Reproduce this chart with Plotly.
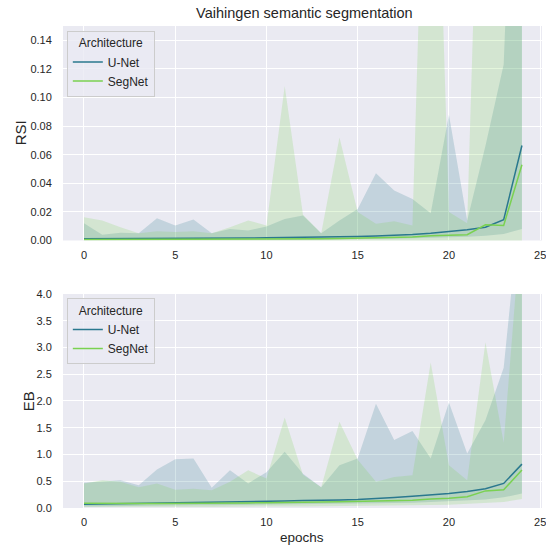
import plotly.graph_objects as go

epochs = list(range(25))

# RSI (top panel)
rsi_unet_mean = [0.0012, 0.0012, 0.0012, 0.0013, 0.0013, 0.0014, 0.0014, 0.0015, 0.0016, 0.0017,
                 0.0019, 0.0020, 0.0021, 0.0022, 0.0025, 0.0028, 0.0032, 0.0036, 0.0042, 0.0050,
                 0.0060, 0.0075, 0.0093, 0.0145, 0.0664]
rsi_unet_low = [0.0003, 0.0003, 0.0003, 0.0004, 0.0004, 0.0004, 0.0004, 0.0005, 0.0005, 0.0005,
                0.0006, 0.0006, 0.0007, 0.0007, 0.0008, 0.0009, 0.0011, 0.0013, 0.0015, 0.0018,
                0.0022, 0.0027, 0.0033, 0.0045, 0.0080]
rsi_unet_high = [0.0120, 0.0040, 0.0055, 0.0050, 0.0156, 0.0105, 0.0147, 0.0050, 0.0080, 0.0070,
                 0.0098, 0.0150, 0.0175, 0.0050, 0.0140, 0.0220, 0.0470, 0.0350, 0.0290, 0.0190,
                 0.0880, 0.0140, 0.0660, 0.1230, 0.4500]
rsi_segnet_mean = [0.0007, 0.0007, 0.0007, 0.0007, 0.0008, 0.0008, 0.0008, 0.0008, 0.0009, 0.0009,
                   0.0010, 0.0011, 0.0012, 0.0012, 0.0014, 0.0016, 0.0019, 0.0022, 0.0025, 0.0033,
                   0.0037, 0.0040, 0.0110, 0.0105, 0.0530]
rsi_segnet_low = [-0.0010, -0.0008, -0.0006, -0.0005, -0.0005, -0.0005, -0.0005, -0.0005, -0.0005, -0.0005,
                  -0.0005, -0.0005, -0.0005, -0.0005, -0.0005, -0.0005, -0.0005, -0.0005, -0.0005, -0.0005,
                  -0.0005, -0.0005, -0.0005, -0.0005, -0.0005]
rsi_segnet_high = [0.0163, 0.0140, 0.0093, 0.0051, 0.0065, 0.0060, 0.0065, 0.0050, 0.0093, 0.0140,
                   0.0105, 0.1080, 0.0180, 0.0050, 0.0720, 0.0200, 0.0117, 0.0135, 0.0105, 0.4400,
                   0.0200, 0.0120, 0.4400, 0.3000, 0.5000]

# EB (bottom panel)
eb_unet_mean = [0.07, 0.075, 0.08, 0.085, 0.09, 0.095, 0.10, 0.10, 0.11, 0.115,
                0.12, 0.13, 0.14, 0.14, 0.15, 0.16, 0.175, 0.195, 0.22, 0.245,
                0.27, 0.31, 0.36, 0.46, 0.82]
eb_unet_low = [0.03, 0.035, 0.04, 0.04, 0.045, 0.045, 0.05, 0.05, 0.055, 0.06,
               0.06, 0.065, 0.07, 0.07, 0.075, 0.08, 0.085, 0.095, 0.10, 0.11,
               0.12, 0.14, 0.16, 0.20, 0.27]
eb_unet_high = [0.47, 0.50, 0.52, 0.425, 0.72, 0.91, 0.925, 0.38, 0.705, 0.46,
                0.67, 1.05, 0.64, 0.39, 0.80, 0.925, 1.95, 1.27, 1.44, 0.925,
                1.97, 1.02, 1.64, 2.62, 6.0]
eb_segnet_mean = [0.09, 0.085, 0.085, 0.085, 0.085, 0.085, 0.085, 0.09, 0.09, 0.095,
                  0.10, 0.10, 0.105, 0.11, 0.115, 0.12, 0.125, 0.135, 0.145, 0.17,
                  0.18, 0.21, 0.32, 0.34, 0.71]
eb_segnet_low = [0.02, 0.02, 0.02, 0.02, 0.02, 0.02, 0.02, 0.02, 0.025, 0.025,
                 0.025, 0.03, 0.03, 0.03, 0.035, 0.035, 0.04, 0.045, 0.05, 0.055,
                 0.06, 0.07, 0.09, 0.11, 0.17]
eb_segnet_high = [0.46, 0.52, 0.49, 0.39, 0.46, 0.34, 0.36, 0.33, 0.49, 0.705,
                  0.55, 1.69, 0.62, 0.39, 1.61, 0.90, 0.49, 0.58, 0.61, 2.72,
                  0.80, 0.52, 3.10, 1.22, 5.5]

x_ticks = [0, 5, 10, 15, 20, 25]
rsi_ticks = [0, 0.02, 0.04, 0.06, 0.08, 0.10, 0.12, 0.14]
eb_ticks = [0, 0.5, 1, 1.5, 2, 2.5, 3, 3.5, 4]

UNET_C = "#2a788e"
SEGNET_C = "#7ad151"
UNET_F = "rgba(42,120,142,0.2)"
SEGNET_F = "rgba(122,209,81,0.2)"
FONT = "Liberation Sans, Arial, sans-serif"
TXT = "#262626"

fig = go.Figure()


def add_panel(xa, ya, legend, series):
    for name, mean, low, high, lc, fc in series:
        fig.add_trace(go.Scatter(
            x=epochs + epochs[::-1], y=high + low[::-1], fill="toself",
            fillcolor=fc, line=dict(width=0), mode="lines", hoverinfo="skip",
            showlegend=False, xaxis=xa, yaxis=ya))
    for name, mean, low, high, lc, fc in series:
        fig.add_trace(go.Scatter(
            x=epochs, y=mean, mode="lines", name=name,
            line=dict(color=lc, width=1.5), xaxis=xa, yaxis=ya, legend=legend))


add_panel("x", "y", "legend", [
    ("U-Net", rsi_unet_mean, rsi_unet_low, rsi_unet_high, UNET_C, UNET_F),
    ("SegNet", rsi_segnet_mean, rsi_segnet_low, rsi_segnet_high, SEGNET_C, SEGNET_F),
])
add_panel("x2", "y2", "legend2", [
    ("U-Net", eb_unet_mean, eb_unet_low, eb_unet_high, UNET_C, UNET_F),
    ("SegNet", eb_segnet_mean, eb_segnet_low, eb_segnet_high, SEGNET_C, SEGNET_F),
])

axis_common = dict(showgrid=True, gridcolor="white", gridwidth=1.2, zeroline=False,
                   showline=False, ticks="outside", tickcolor="rgba(0,0,0,0)",
                   ticklabeloverflow="allow",
                   tickfont=dict(family=FONT, size=11, color=TXT))

legend_common = dict(
    bgcolor="rgba(234,234,242,0.8)", bordercolor="#cccccc", borderwidth=1,
    font=dict(family=FONT, size=12, color=TXT), xanchor="left", yanchor="top",
    itemwidth=30, title=dict(text="Architecture", side="top center",
                             font=dict(family=FONT, size=12, color=TXT)))

fig.update_layout(
    width=546, height=545,
    margin=dict(l=63, r=0, t=26, b=37),
    paper_bgcolor="white", plot_bgcolor="#EAEAF2",
    title=dict(text="Vaihingen semantic segmentation", x=0.5575, xanchor="center",
               y=1 - 13 / 545, yanchor="middle", yref="container",
               font=dict(family=FONT, size=14.5, color=TXT)),
    xaxis=dict(domain=[0, 1], range=[-1.15, 25.1], tickvals=x_ticks, ticklen=4,
               anchor="y", **axis_common),
    yaxis=dict(domain=[0.555, 1], range=[0, 0.15], tickvals=rsi_ticks, ticklen=8,
               tickformat=".2f", anchor="x", **axis_common),
    xaxis2=dict(domain=[0, 1], range=[-1.15, 25.1], tickvals=x_ticks, ticklen=4,
                anchor="y2", **axis_common),
    yaxis2=dict(domain=[0, 0.444], range=[0, 4], tickvals=eb_ticks, ticklen=8,
                tickformat=".1f", anchor="x2", **axis_common),
    legend=dict(x=0.008, y=0.99, **legend_common),
    legend2=dict(x=0.008, y=0.435, **legend_common),
    annotations=[
        dict(text="RSI", xref="paper", yref="paper", x=(20 - 63) / 483, y=(508 - 133) / 482,
             xanchor="center", yanchor="middle",
             showarrow=False, textangle=-90, font=dict(family=FONT, size=15, color=TXT)),
        dict(text="EB", xref="paper", yref="paper", x=(28 - 63) / 483, y=(508 - 401) / 482,
             xanchor="center", yanchor="middle",
             showarrow=False, textangle=-90, font=dict(family=FONT, size=15, color=TXT)),
        dict(text="epochs", xref="paper", yref="paper", x=(304 - 63) / 483, y=(508 - 537) / 482,
             xanchor="center", yanchor="middle",
             showarrow=False, font=dict(family=FONT, size=13.5, color=TXT)),
    ],
)

fig.write_html("out.html")
